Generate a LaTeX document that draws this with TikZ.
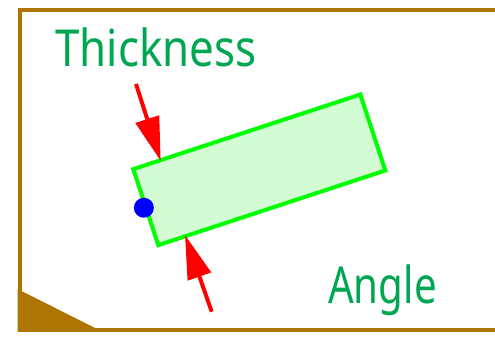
\documentclass[tikz,border=0pt]{standalone}
\usepackage{fontspec}
\setmainfont{Noto Sans}
\usetikzlibrary{arrows.meta}
\definecolor{frameBrown}{HTML}{AE7500}
\definecolor{labelGreen}{HTML}{00A651}
\definecolor{boxGreen}{HTML}{00FF00}
\definecolor{boxFill}{HTML}{D4FCD4}
\tikzset{
  framepath/.style={draw=frameBrown, line width=4pt},
  label text/.style={text=labelGreen, font=\fontsize{51}{51}\selectfont, inner sep=0pt, anchor=base west},
  thickbox/.style={draw=boxGreen, fill=boxFill, line width=4pt, minimum width=239pt, minimum height=80pt, inner sep=0pt, rotate=18.2},
  pivot/.style={circle, fill=blue, minimum size=20pt, inner sep=0pt},
  measarrow/.style={draw=red, line width=4pt, -{Triangle[length=44pt,width=24pt]}}
}
\begin{document}
\begin{tikzpicture}[x=1pt, y=-1pt]
\useasboundingbox (0,0) rectangle (495,338);
% frame
\draw[framepath] (495,9.5) -- (19.5,9.5) -- (19.5,329.5) -- (495,329.5);
\fill[frameBrown] (17.5,289) -- (98,329.5) -- (17.5,331.5) -- cycle;
\fill[frameBrown] (17.5,327.5) rectangle (98,331.5);
% box
\node[thickbox] (box) at (259.3,169.8) {};
\node[pivot] (pivotdot) at (box.west) {};
% arrows
\coordinate (tailA) at (136,84);
\coordinate (tipA) at (160.7,161);
\coordinate (tailB) at (211.7,311.7);
\coordinate (tipB) at (185,235);
\draw[measarrow] (tailA) -- (tipA);
\draw[measarrow] (tailB) -- (tipB);
% labels
\node[label text] (thick) at (55,66.7) {\scalebox{0.86}[1]{Thickness}};
\node[label text] (angle) at (328,303.3) {\scalebox{0.79}[1]{Angle}};
\end{tikzpicture}
\end{document}
